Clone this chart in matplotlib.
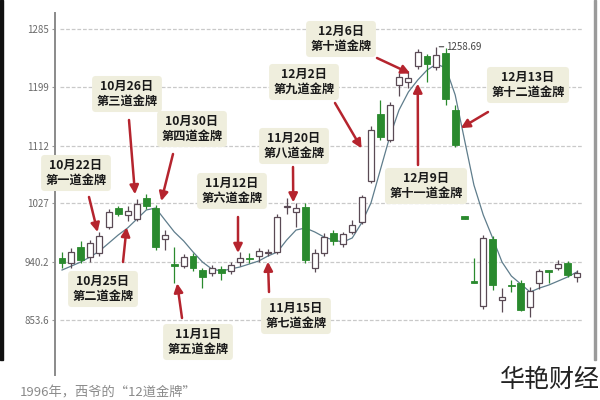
import numpy as np
import matplotlib
matplotlib.use('Agg')
import matplotlib.pyplot as plt
from matplotlib.patches import Rectangle

plt.rcParams['font.family'] = ['Noto Sans CJK SC', 'DejaVu Sans']

# daily candles, 1996 (index only, no date axis in the picture)
opens = [946, 938, 962, 947, 953, 992, 1020, 1009, 1003, 1034.5,
         1020, 973, 936, 934, 949, 928, 924, 929, 926, 939,
         946, 948.5, 953, 955, 1021, 1013, 1021, 930, 952.5, 983,
         966, 984.5, 999, 1060, 1159, 1120, 1202, 1207, 1230, 1245,
         1229, 1250, 1165, 1008, 911, 874, 973, 883, 904.5, 909,
         873, 908, 926.5, 931, 938, 917]
closes = [938, 955, 942, 968, 978, 1014, 1011, 1015, 1026, 1022,
          962, 980, 934, 947, 930, 918, 930, 924, 935, 945,
          944, 956, 954, 1007, 1022.5, 1019, 942.5, 953, 977, 970,
          981, 994, 1035.5, 1136, 1125, 1172, 1214, 1212, 1251, 1233,
          1246.5, 1181, 1113, 1003, 909, 975, 905.5, 887, 903.5, 868,
          897, 926, 925.5, 936, 920, 923]
highs = [954, 960, 970, 972, 984, 1018, 1023, 1022, 1033, 1040,
         1024, 987, 962, 951, 953, 931, 935, 934, 940, 955,
         953, 960, 959, 1011, 1034, 1027, 1027, 959, 983, 987,
         984, 1002, 1039, 1141, 1180, 1177, 1220, 1222, 1255, 1248,
         1258.69, 1257, 1172, 1008, 946, 980, 978, 901, 913, 913,
         902, 929, 927, 942.5, 941, 928]
lows = [931, 931, 938, 940, 948, 988, 1008, 1000, 1001, 1018,
        957, 957, 908, 931, 926, 901, 919, 913, 922, 934,
        938, 940, 948.5, 951, 1011, 992, 938, 925, 948.5, 965,
        962, 981, 996, 1057, 1120, 1117, 1185, 1197, 1226, 1207,
        1224, 1172, 1110, 1003, 908, 870, 898, 866, 895, 867,
        858.5, 900, 909, 928, 917, 910]
ma = [927.7, 933.6, 939.6, 947.0, 955.9, 967.7, 979.6, 990.0, 1003.3, 1016.7,
      1019.6, 1001.8, 984.1, 970.7, 954.4, 939.6, 929.2, 926.2, 929.2, 932.2,
      936.6, 941.0, 948.5, 954.4, 972.2, 987.0, 990.0, 984.1, 976.6, 972.2,
      969.2, 975.2, 997.4, 1027.0, 1076.0, 1124.9, 1164.9, 1191.6, 1209.4, 1224.2,
      1233.1, 1227.2, 1187.2, 1120.4, 1053.7, 1009.3, 975.2, 939.6, 918.8, 907.0,
      895.1, 901.0, 905.5, 911.4, 917.4, 924.8]

y_ticks = [853.6, 940.2, 1027, 1112, 1199, 1285]
y_labels = ['853.6', '940.2', '1027', '1112', '1199', '1285']

# gold medal notes: text, box centre (px from top-left), arrow tail (px), arrow head (candle idx, price)
notes = ['10月22日\n第一道金牌', '10月25日\n第二道金牌', '10月26日\n第三道金牌',
         '10月30日\n第四道金牌', '11月1日\n第五道金牌', '11月12日\n第六道金牌',
         '11月15日\n第七道金牌', '11月20日\n第八道金牌', '12月2日\n第九道金牌',
         '12月6日\n第十道金牌', '12月9日\n第十一道金牌', '12月13日\n第十二道金牌']
box_xy = [(76, 173), (103, 289), (127, 94), (192, 129), (198, 342), (232, 191),
          (296, 316), (294, 146), (304, 82), (341, 39), (426, 186), (528, 85)]
tail_xy = [(89, 197), (123, 262), (129, 120), (173, 154), (182, 318), (238, 217),
           (269, 292), (293, 167), (335, 103), (377, 58), (418, 165), (488, 112)]
head_at = [(3.8, 984), (6.9, 991), (7.8, 1040), (10.6, 1030), (12.3, 908), (18.8, 953),
           (22.0, 940), (24.7, 1028), (32.0, 1108), (37.2, 1219), (38.0, 1204), (42.6, 1138)]

green = '#2a8a2e'
edge = '#5a4a55'
red = '#b5242e'

fig = plt.figure(figsize=(6, 4), dpi=100)
ax = fig.add_axes([55 / 600, 25 / 400, 535 / 600, 362 / 400])
ax.set_xlim(-0.75, 56.4)
ax.set_ylim(772.1, 1308.7)

idx = np.arange(len(opens))
o = np.array(opens)
c = np.array(closes)
up = c >= o

ax.hlines(y_ticks, -0.2, 55.7, colors='#c9c9c9', linestyles=(0, (3, 1.5)), lw=0.9, zorder=0)

# wicks
ax.vlines(idx[up], np.array(lows)[up], np.array(highs)[up], colors=edge, lw=0.9, zorder=2)
ax.vlines(idx[~up], np.array(lows)[~up], np.array(highs)[~up], colors=green, lw=0.9, zorder=2)

# bodies
bottom = np.minimum(o, c)
height = np.maximum(np.abs(c - o), 1.6)
ax.bar(idx[up], height[up], bottom=bottom[up], width=0.64, color='white',
       edgecolor=edge, lw=0.9, zorder=3)
ax.bar(idx[~up], height[~up], bottom=bottom[~up], width=0.72, color=green,
       edgecolor=green, lw=0.6, zorder=3)

ax.plot(idx, ma, color='#5f7d8c', lw=0.9, zorder=1)

ax.annotate('1258.69', xy=(40, 1258.69), xytext=(10, 0), textcoords='offset pixels',
            va='center', fontsize=7, color='#444444',
            arrowprops=dict(arrowstyle='-', color='#444444', lw=0.8, shrinkA=0, shrinkB=2))

for spine in ['top', 'right', 'bottom']:
    ax.spines[spine].set_visible(False)
ax.spines['left'].set_color('#8a8a8a')
ax.spines['left'].set_linewidth(1.4)
ax.set_xticks([])
ax.set_yticks(y_ticks)
ax.set_yticklabels(y_labels)
ax.tick_params(axis='y', length=2.5, width=0.8, color='#999999', pad=2,
               labelsize=7, labelcolor='#6a6a6a')

for text, (bx, by), (tx, ty), head in zip(notes, box_xy, tail_xy, head_at):
    ax.annotate('', xy=head, xycoords='data', xytext=(tx, 400 - ty), textcoords='figure pixels',
                arrowprops=dict(arrowstyle='-|>', color=red, lw=1.8, mutation_scale=13,
                                shrinkA=0, shrinkB=0), zorder=5)
    fig.text(bx / 600, 1 - by / 400, text, ha='center', va='center', fontsize=8.8,
             fontweight='bold', color='#1a1a1a', linespacing=1.15, zorder=6,
             bbox=dict(boxstyle='round,pad=0.35,rounding_size=0.3', fc='#efeedd', ec='none'))

# scan edges of the pasted picture
fig.patches.append(Rectangle((0, 40 / 400), 3 / 600, 360 / 400, transform=fig.transFigure,
                             color='#111111', zorder=0))
fig.patches.append(Rectangle((594 / 600, 40 / 400), 1.5 / 600, 360 / 400, transform=fig.transFigure,
                             color='#9a9a9a', zorder=0))

fig.text(20 / 600, 1 - 386 / 400, '1996年，西爷的“12道金牌”', ha='left', va='top',
         fontsize=9.5, color='#8a8a8a')
fig.text(600 / 600, 1 - 380 / 400, '华艳财经', ha='right', va='center',
         fontsize=18, fontweight='light', color='#222222')

plt.savefig('out.png', dpi=100)
plt.close()
